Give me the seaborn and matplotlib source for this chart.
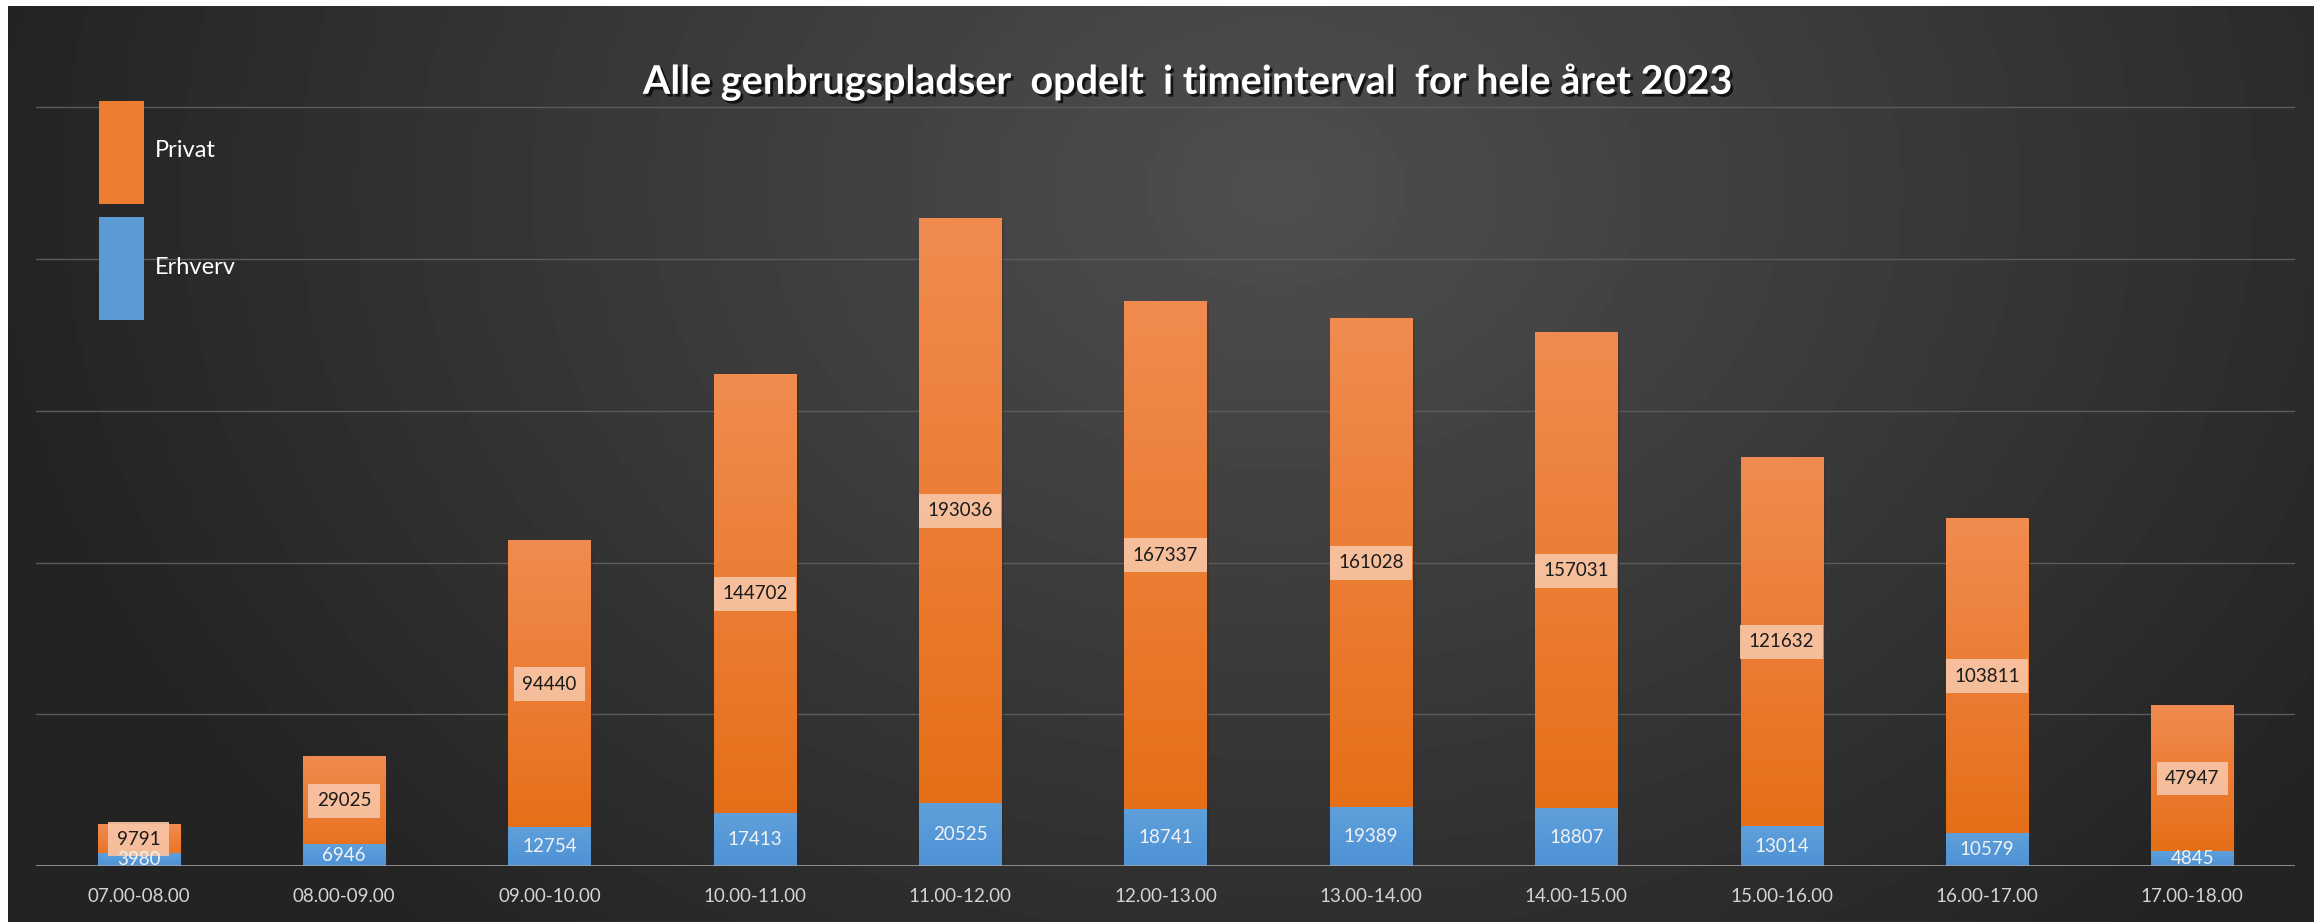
import numpy as np
import matplotlib
matplotlib.use("Agg")
import matplotlib.pyplot as plt
import matplotlib.patheffects as pe
from matplotlib.colors import LinearSegmentedColormap
from matplotlib.patches import Patch
import seaborn as sns

# data
intervals = ['07.00-08.00', '08.00-09.00', '09.00-10.00', '10.00-11.00', '11.00-12.00',
             '12.00-13.00', '13.00-14.00', '14.00-15.00', '15.00-16.00', '16.00-17.00',
             '17.00-18.00']
erhverv = [3980, 6946, 12754, 17413, 20525, 18741, 19389, 18807, 13014, 10579, 4845]
privat = [9791, 29025, 94440, 144702, 193036, 167337, 161028, 157031, 121632, 103811, 47947]
title = 'Alle genbrugspladser  opdelt  i timeinterval  for hele året 2023'

sns.set_style('white')
plt.rcParams['font.family'] = ['Lato', 'DejaVu Sans']

W, H = 2320, 922
fig = plt.figure(figsize=(W / 100, H / 100), dpi=100, facecolor='white')

# dark radial background (white frame left/top/right)
bg = fig.add_axes([8 / W, 0, 1 - 14 / W, 1 - 6 / H], zorder=-10)
gx, gy = np.meshgrid(np.linspace(0, 1, 400), np.linspace(0, 1, 200))
d = np.sqrt(((gx - 0.55) / 0.62) ** 2 + ((gy - 0.8) / 1.2) ** 2)
shade = np.clip(0.31 - 0.19 * d, 0.14, 0.32)
bg.imshow(shade, cmap='gray', vmin=0, vmax=1, origin='lower', extent=[0, 1, 0, 1], aspect='auto')
bg.set_axis_off()

ax = fig.add_axes([36 / W, 1 - 866 / H, (2295 - 36) / W, 0.8293])
ax.set_facecolor('none')

totals = np.array(erhverv) + np.array(privat)
sns.barplot(x=intervals, y=totals, color='#ED7D31', width=0.4, saturation=1, ax=ax,
            zorder=3, linewidth=0, edgecolor='none')
sns.barplot(x=intervals, y=erhverv, color='#5B9BD5', width=0.4, saturation=1, ax=ax,
            zorder=3, linewidth=0, edgecolor='none')

# gradient fill like the excel bars
grad_o = LinearSegmentedColormap.from_list('o', ['#F18B50', '#E46C12'])
grad_b = LinearSegmentedColormap.from_list('b', ['#5FA0DA', '#4E92D6'])
ramp = np.linspace(0, 1, 256).reshape(-1, 1)
for i, bar in enumerate(ax.patches):
    blue = i >= len(intervals)
    x0, y0, w, h = bar.get_x(), bar.get_y(), bar.get_width(), bar.get_height()
    bar.set_path_effects([pe.SimplePatchShadow(offset=(2, -2), alpha=0.35), pe.Normal()])
    ax.imshow(ramp, cmap=grad_b if blue else grad_o, extent=[x0, x0 + w, y0, y0 + h],
              aspect='auto', origin='upper', zorder=3.6 if blue else 3.5)

# value labels
for i in range(len(intervals)):
    ax.text(i, erhverv[i] + privat[i] / 2, str(privat[i]), ha='center', va='center',
            fontsize=13.5, color='#1a1a1a', zorder=6,
            bbox=dict(boxstyle='square,pad=0.45', fc='#F7C4A5', ec='none', alpha=0.92))
    ax.text(i, erhverv[i] / 2, str(erhverv[i]), ha='center', va='center',
            fontsize=13.5, color='#F2F2F2', zorder=6)

ax.set_xlim(-0.5, len(intervals) - 0.5)
ax.set_ylim(0, 252000)
ax.set_yticks(range(0, 250001, 50000))
ax.yaxis.grid(True, color='#5c5c5c', lw=1)
ax.xaxis.grid(False)
ax.set_axisbelow(True)
ax.axhline(0, color='#a8a8a8', lw=1.8, zorder=5)
for s in ax.spines.values():
    s.set_visible(False)
ax.tick_params(axis='y', left=False, labelleft=False)
ax.tick_params(axis='x', bottom=False, labelsize=13.5, labelcolor='#D4D4D4', pad=12)
ax.set_xlabel('')
ax.set_ylabel('')

handles = [Patch(fc='#ED7D31', ec='none'), Patch(fc='#5B9BD5', ec='none')]
fs_px = 17 * 100 / 72
fig.legend(handles, ['Privat', 'Erhverv'], loc='upper left',
           bbox_to_anchor=(99 / W, 1 - 101 / H), frameon=False, fontsize=17,
           labelcolor='white', handlelength=45 / fs_px, handleheight=6.34,
           labelspacing=0.55, handletextpad=0.45, borderpad=0, borderaxespad=0)

fig.text(1188 / W, 1 - 82 / H, title, ha='center', va='center', fontsize=28.5,
         fontweight='bold', color='white',
         path_effects=[pe.withSimplePatchShadow(offset=(2, -2), shadow_rgbFace='black', alpha=0.7)])

fig.savefig('out.png', dpi=100, facecolor='white')
